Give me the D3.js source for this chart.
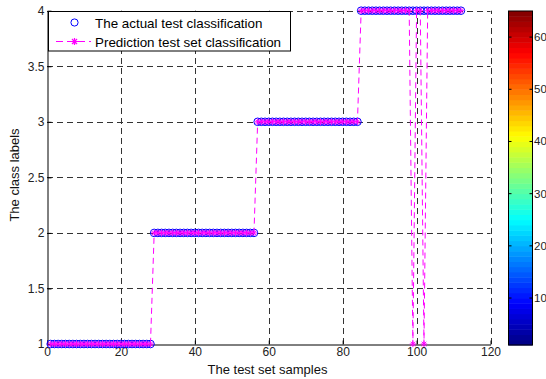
<!DOCTYPE html>
<html>
<head>
<meta charset="utf-8">
<script src="https://cdn.jsdelivr.net/npm/d3@7"></script>
<style>
  body { margin: 0; background: #fff; }
  svg { display: block; font-family: "Liberation Sans", Arial, sans-serif; }
</style>
</head>
<body>
<div id="chart"></div>
<script>
// Actual class of each test sample (samples 1..112)
const actualLabels = [
  1,1,1,1,1,1,1,1,1,1,1,1,1,1,1,1,1,1,1,1,1,1,1,1,1,1,1,1,
  2,2,2,2,2,2,2,2,2,2,2,2,2,2,2,2,2,2,2,2,2,2,2,2,2,2,2,2,
  3,3,3,3,3,3,3,3,3,3,3,3,3,3,3,3,3,3,3,3,3,3,3,3,3,3,3,3,
  4,4,4,4,4,4,4,4,4,4,4,4,4,4,4,4,4,4,4,4,4,4,4,4,4,4,4,4
];
// Predicted class of each test sample
const predictedLabels = [
  1,1,1,1,1,1,1,1,1,1,1,1,1,1,1,1,1,1,1,1,1,1,1,1,1,1,1,1,
  2,2,2,2,2,2,2,2,2,2,2,2,2,2,2,2,2,2,2,2,2,2,2,2,2,2,2,2,
  3,3,3,3,3,3,3,3,3,3,3,3,3,3,3,3,3,3,3,3,3,3,3,3,3,3,3,3,
  4,4,4,4,4,4,4,4,4,4,4,4,4,4,1,4,4,1,4,4,4,4,4,4,4,4,4,4
];
const xTicks = [0, 20, 40, 60, 80, 100, 120];
const yTicks = [1, 1.5, 2, 2.5, 3, 3.5, 4];
const colorbarTicks = [10, 20, 30, 40, 50, 60];
const legendLabels = ["The actual test classification", "Prediction test set classification"];

const W = 546, H = 379;
const plot = { left: 47, right: 490.5, top: 10.7, bottom: 344 };
const cbar = { left: 508.5, right: 532.5, top: 11, bottom: 345 };

const svg = d3.select("#chart").append("svg")
    .attr("width", W)
    .attr("height", H);

svg.append("rect").attr("width", W).attr("height", H).attr("fill", "#fff");

const x = d3.scaleLinear().domain([0, 120]).range([plot.left, plot.right]);
const y = d3.scaleLinear().domain([1, 4]).range([plot.bottom, plot.top]);

// grid
const grid = svg.append("g").attr("stroke", "#333").attr("stroke-width", 1)
    .attr("stroke-dasharray", "6,4");
grid.selectAll(".vg").data(xTicks.slice(1)).enter().append("line")
    .attr("x1", d => Math.round(x(d)) + 0.5).attr("x2", d => Math.round(x(d)) + 0.5)
    .attr("y1", plot.bottom).attr("y2", plot.top);
grid.selectAll(".hg").data(yTicks.slice(1)).enter().append("line")
    .attr("y1", d => Math.round(y(d)) + 0.5).attr("y2", d => Math.round(y(d)) + 0.5)
    .attr("x1", plot.left).attr("x2", plot.right);

// axes (ticks pointing inward)
const xAxis = svg.append("g")
    .attr("transform", `translate(0,${Math.round(plot.bottom) + 0.5})`)
    .call(d3.axisBottom(x).tickValues(xTicks).tickSizeInner(-4).tickSizeOuter(0).tickPadding(4));
const yAxis = svg.append("g")
    .attr("transform", `translate(${Math.round(plot.left) + 0.5},0)`)
    .call(d3.axisLeft(y).tickValues(yTicks).tickSizeInner(-4).tickSizeOuter(0).tickPadding(3)
        .tickFormat(d3.format("")));
[xAxis, yAxis].forEach(a => {
    a.select(".domain").attr("stroke", "#000");
    a.selectAll("line").attr("stroke", "#000");
    a.selectAll("text").attr("font-size", "12px").attr("fill", "#222")
        .attr("font-family", "'Liberation Sans', Arial, sans-serif");
});
xAxis.selectAll("text").attr("dy", "0.62em");

// axis titles
svg.append("text")
    .attr("x", 267.5).attr("y", 373.5)
    .attr("text-anchor", "middle")
    .attr("font-size", "13px").attr("fill", "#111")
    .text("The test set samples");
svg.append("text")
    .attr("transform", "translate(19,175) rotate(-90)")
    .attr("text-anchor", "middle")
    .attr("font-size", "13px").attr("fill", "#111")
    .text("The class labels");

// asterisk marker path
function starPath(r) {
    const d = r * 0.72;
    return `M${-r},0L${r},0M0,${-r}L0,${r}M${-d},${-d}L${d},${d}M${-d},${d}L${d},${-d}`;
}

const samples = actualLabels.map((v, i) => ({ i: i + 1, actual: v, pred: predictedLabels[i] }));

// actual: blue circles
svg.append("g").selectAll("circle").data(samples).enter().append("circle")
    .attr("cx", d => x(d.i)).attr("cy", d => y(d.actual))
    .attr("r", 3.8)
    .attr("fill", "none").attr("stroke", "#0000ff").attr("stroke-width", 1);

// prediction: magenta dashed line with stars
const line = d3.line().x(d => x(d.i)).y(d => y(d.pred));
svg.append("path").datum(samples)
    .attr("d", line)
    .attr("fill", "none").attr("stroke", "#ff00ff").attr("stroke-width", 1)
    .attr("stroke-dasharray", "6,4");
svg.append("g").selectAll("path").data(samples).enter().append("path")
    .attr("transform", d => `translate(${x(d.i)},${y(d.pred)})`)
    .attr("d", starPath(3.2))
    .attr("stroke", "#ff00ff").attr("stroke-width", 1).attr("fill", "none");

// legend
const lg = svg.append("g");
lg.append("rect")
    .attr("x", 48.5).attr("y", 11.5).attr("width", 242).attr("height", 39.5)
    .attr("fill", "#fff").attr("stroke", "#000").attr("stroke-width", 1);
lg.append("circle").attr("cx", 74.5).attr("cy", 22.5).attr("r", 3.6)
    .attr("fill", "none").attr("stroke", "#0000ff");
lg.append("line").attr("x1", 56).attr("x2", 91).attr("y1", 41.5).attr("y2", 41.5)
    .attr("stroke", "#ff00ff").attr("stroke-dasharray", "7,4").attr("stroke-dashoffset", 0);
lg.append("path").attr("transform", "translate(74.5,41.5)").attr("d", starPath(3.5))
    .attr("stroke", "#ff00ff").attr("stroke-width", 1.2);
lg.selectAll(".lt").data(legendLabels).enter().append("text")
    .attr("x", 95).attr("y", (d, i) => 27.5 + i * 19.2)
    .attr("font-size", "13.4px").attr("fill", "#000")
    .text(d => d);

// colorbar (jet, 64 colours)
function jet(t) {
    const c = v => Math.round(255 * Math.max(0, Math.min(1, v)));
    return `rgb(${c(1.5 - Math.abs(4 * t - 3))},${c(1.5 - Math.abs(4 * t - 2))},${c(1.5 - Math.abs(4 * t - 1))})`;
}
const cy = d3.scaleLinear().domain([1, 65]).range([cbar.bottom, cbar.top]);
const levels = d3.range(1, 65);
svg.append("g").selectAll("rect").data(levels).enter().append("rect")
    .attr("x", cbar.left).attr("width", cbar.right - cbar.left)
    .attr("y", d => cy(d + 1)).attr("height", d => cy(d) - cy(d + 1) + 0.5)
    .attr("fill", d => jet((d - 0.5) / 64));
svg.append("rect")
    .attr("x", cbar.left).attr("y", cbar.top)
    .attr("width", cbar.right - cbar.left).attr("height", cbar.bottom - cbar.top)
    .attr("fill", "none").attr("stroke", "#000");
const cb = svg.append("g");
cb.selectAll(".tl").data(colorbarTicks).enter().append("line")
    .attr("x1", cbar.left).attr("x2", cbar.left + 3)
    .attr("y1", d => cy(d)).attr("y2", d => cy(d)).attr("stroke", "#000");
cb.selectAll(".tr").data(colorbarTicks).enter().append("line")
    .attr("x1", cbar.right - 3).attr("x2", cbar.right)
    .attr("y1", d => cy(d)).attr("y2", d => cy(d)).attr("stroke", "#000");
cb.selectAll("text").data(colorbarTicks).enter().append("text")
    .attr("x", cbar.right + 1.5).attr("y", d => cy(d)).attr("dy", "0.35em")
    .attr("font-size", "11.5px").attr("fill", "#222")
    .text(d => d);
</script>
</body>
</html>
